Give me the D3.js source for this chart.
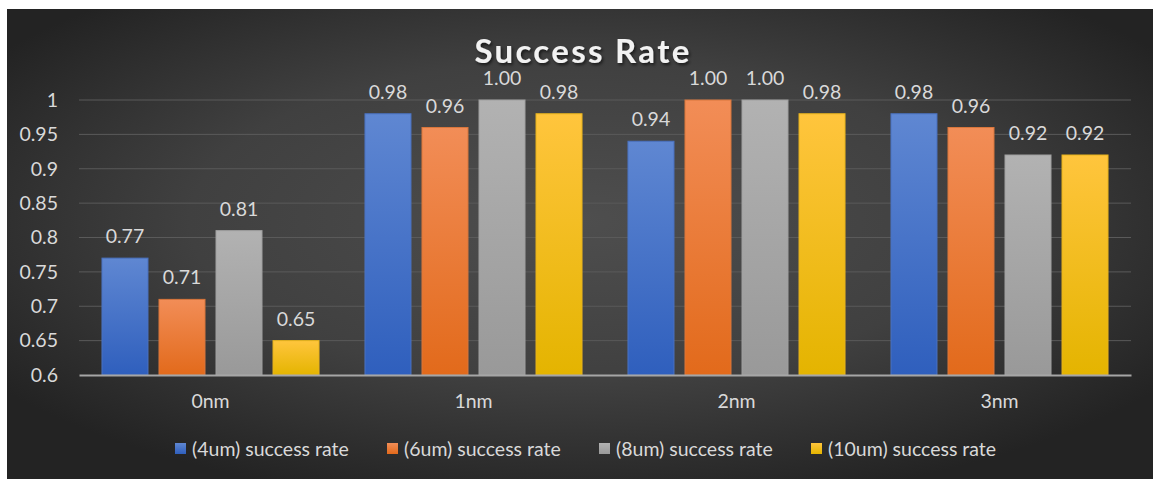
<!DOCTYPE html>
<html>
<head>
<meta charset="utf-8">
<script src="https://cdn.jsdelivr.net/npm/d3@7"></script>
<style>
  html, body { margin: 0; padding: 0; background: #ffffff; }
  svg { display: block; }
  text { font-family: Lato, "Open Sans", sans-serif; }
</style>
</head>
<body>
<svg id="chart" width="1153" height="479"></svg>
<script>
// Success rate per offset, one series per feature size
const categories = ["0nm", "1nm", "2nm", "3nm"];
const seriesNames = ["(4um) success rate", "(6um) success rate", "(8um) success rate", "(10um) success rate"];
const rate4um  = [0.77, 0.98, 0.94, 0.98];
const rate6um  = [0.71, 0.96, 1.00, 0.96];
const rate8um  = [0.81, 1.00, 1.00, 0.92];
const rate10um = [0.65, 0.98, 0.98, 0.92];
const yTicks = [0.6, 0.65, 0.7, 0.75, 0.8, 0.85, 0.9, 0.95, 1];
const yTickLabels = ["0.6", "0.65", "0.7", "0.75", "0.8", "0.85", "0.9", "0.95", "1"];

const seriesValues = [rate4um, rate6um, rate8um, rate10um];
const barColors = [
  { top: "#5f87d2", bottom: "#2f5fbd", stroke: "#4a72c0" },
  { top: "#f28d57", bottom: "#e26a1b", stroke: "#d8763c" },
  { top: "#b2b2b2", bottom: "#999999", stroke: "#a0a0a0" },
  { top: "#ffc53d", bottom: "#e4b400", stroke: "#e8b41c" }
];
const labelSize = "19.5px";

const svg = d3.select("#chart");
const defs = svg.append("defs");

// Panel background: soft radial highlight in the middle
const bg = defs.append("radialGradient").attr("id", "bgGrad")
  .attr("cx", "0.5").attr("cy", "0.45").attr("r", "0.62");
bg.append("stop").attr("offset", "0").attr("stop-color", "#4e4e4e");
bg.append("stop").attr("offset", "0.55").attr("stop-color", "#404040");
bg.append("stop").attr("offset", "1").attr("stop-color", "#232323");

barColors.forEach((c, i) => {
  const g = defs.append("linearGradient").attr("id", "barGrad" + i)
    .attr("x1", 0).attr("y1", 0).attr("x2", 0).attr("y2", 1);
  g.append("stop").attr("offset", "0").attr("stop-color", c.top);
  g.append("stop").attr("offset", "1").attr("stop-color", c.bottom);
});

const shadow = defs.append("filter").attr("id", "titleShadow")
  .attr("x", "-10%").attr("y", "-30%").attr("width", "120%").attr("height", "160%");
shadow.append("feDropShadow").attr("dx", 1.5).attr("dy", 2).attr("stdDeviation", 1.5)
  .attr("flood-color", "#000000").attr("flood-opacity", 0.6);

svg.append("rect").attr("x", 7).attr("y", 9).attr("width", 1146).attr("height", 470)
  .attr("fill", "url(#bgGrad)");

const plot = { left: 79, right: 1131, top: 100, bottom: 375 };

const y = d3.scaleLinear().domain([0.6, 1]).range([plot.bottom, plot.top]);
const x0 = d3.scaleBand().domain(categories).range([plot.left, plot.right]).padding(0);
const x1 = d3.scaleBand().domain(d3.range(seriesNames.length)).range([0, x0.bandwidth()])
  .paddingInner(0.193).paddingOuter(0.403);

// Gridlines
svg.append("g").selectAll("line").data(yTicks.filter(t => t > 0.6)).join("line")
  .attr("x1", plot.left).attr("x2", plot.right)
  .attr("y1", d => y(d)).attr("y2", d => y(d))
  .attr("stroke", "#5a5a5a").attr("stroke-width", 1);

// Y axis labels
const yAxis = d3.axisLeft(y).tickValues(yTicks)
  .tickFormat((d, i) => yTickLabels[i]).tickSize(0).tickPadding(21);
const yg = svg.append("g").attr("transform", `translate(${plot.left},0)`).call(yAxis);
yg.select(".domain").remove();
yg.selectAll("text").attr("fill", "#d9d9d9").style("font-size", labelSize)
  .style("font-family", "Lato, 'Open Sans', sans-serif");

// Bars
const groups = svg.append("g").selectAll("g").data(categories).join("g")
  .attr("transform", d => `translate(${x0(d)},0)`);

groups.selectAll("rect").data((c, ci) => seriesValues.map((vals, si) => ({ si, v: vals[ci] })))
  .join("rect")
  .attr("x", d => x1(d.si)).attr("width", x1.bandwidth())
  .attr("y", d => y(d.v)).attr("height", d => y(0.6) - y(d.v))
  .attr("fill", d => `url(#barGrad${d.si})`)
  .attr("stroke", d => barColors[d.si].stroke).attr("stroke-width", 1);

groups.selectAll("text.val").data((c, ci) => seriesValues.map((vals, si) => ({ si, v: vals[ci] })))
  .join("text").attr("class", "val")
  .attr("x", d => x1(d.si) + x1.bandwidth() / 2)
  .attr("y", d => y(d.v) - 15)
  .attr("text-anchor", "middle")
  .attr("fill", "#d9d9d9").style("font-size", labelSize)
  .text(d => d.v.toFixed(2));

// X axis
const xAxis = d3.axisBottom(x0).tickSize(0).tickPadding(19);
const xg = svg.append("g").attr("transform", `translate(0,${plot.bottom})`).call(xAxis);
xg.select(".domain").attr("stroke", "#a6a6a6").attr("stroke-width", 2);
xg.selectAll("text").attr("fill", "#d9d9d9").style("font-size", labelSize)
  .style("font-family", "Lato, 'Open Sans', sans-serif");

// Title
svg.append("text").attr("x", 583).attr("y", 63).attr("text-anchor", "middle")
  .attr("fill", "#f2f2f2").style("font-size", "33px").style("font-weight", "bold")
  .style("letter-spacing", "2.3px").attr("filter", "url(#titleShadow)")
  .text("Success Rate");

// Legend
const legend = svg.append("g").selectAll("g").data(seriesNames).join("g")
  .attr("transform", (d, i) => `translate(${175 + i * 212},449)`);
legend.append("rect").attr("x", 0).attr("y", -6).attr("width", 11).attr("height", 11)
  .attr("fill", (d, i) => `url(#barGrad${i})`);
legend.append("text").attr("x", 17).attr("y", 7)
  .attr("fill", "#d9d9d9").style("font-size", labelSize).text(d => d);
</script>
</body>
</html>
